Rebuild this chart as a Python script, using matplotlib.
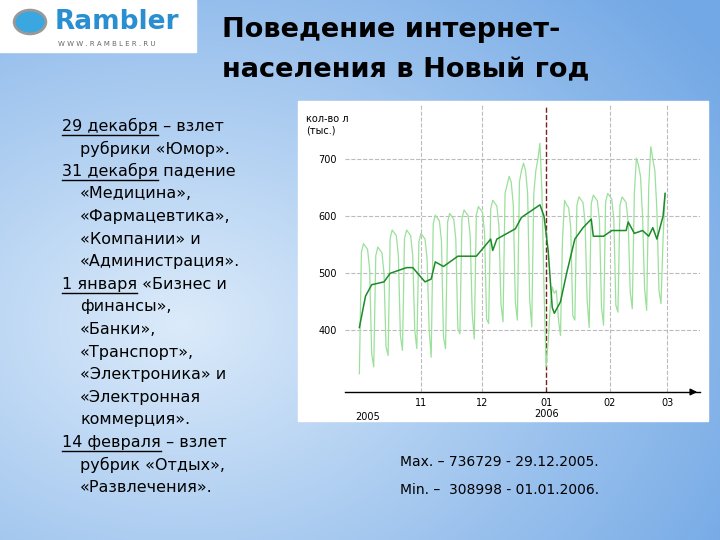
import numpy as np
import matplotlib
matplotlib.use("Agg")
import matplotlib.pyplot as plt
from matplotlib.patches import Rectangle, Circle

plt.rcParams['font.family'] = ['DejaVu Sans']

# daily visitors (thousands), weeks starting on Sunday, from 2005-10-02
daily = [324, 537, 552, 547, 542, 507, 359,
         336, 531, 546, 541, 536, 501, 371,
         356, 561, 576, 571, 566, 531, 391,
         365, 561, 576, 571, 566, 531, 400,
         368, 555, 570, 565, 560, 525, 403,
         353, 587, 602, 597, 592, 557, 388,
         368, 590, 605, 600, 595, 560, 403,
         394, 596, 611, 606, 601, 566, 429,
         385, 602, 617, 612, 607, 572, 420,
         412, 613, 628, 623, 618, 583, 447,
         415, 640, 655, 670, 660, 620, 450,
         418, 660, 680, 693, 680, 640, 453,
         406, 640, 680, 700, 728, 640, 470,
         336, 380, 440, 476, 465, 470, 420,
         391, 560, 628, 620, 615, 580, 426,
         418, 619, 634, 629, 624, 589, 453,
         405, 622, 637, 632, 627, 592, 440,
         409, 625, 640, 635, 630, 595, 444,
         432, 619, 634, 629, 624, 589, 467,
         438, 640, 702, 690, 670, 600, 473,
         435, 650, 722, 700, 680, 610, 470,
         447, 560, 640]
daily_dates = np.arange(np.datetime64('2005-10-02'), np.datetime64('2005-10-02') + len(daily))

# smoothed trend
trend_dates = ['2005-10-02', '2005-10-05', '2005-10-08', '2005-10-14', '2005-10-17', '2005-10-25',
               '2005-10-28', '2005-11-03', '2005-11-06', '2005-11-08', '2005-11-12', '2005-11-19',
               '2005-11-28', '2005-12-05', '2005-12-06', '2005-12-08', '2005-12-17', '2005-12-20',
               '2005-12-29', '2005-12-31', '2006-01-02', '2006-01-04', '2006-01-05', '2006-01-08',
               '2006-01-11', '2006-01-15', '2006-01-19', '2006-01-23', '2006-01-24', '2006-01-29',
               '2006-02-02', '2006-02-09', '2006-02-10', '2006-02-13', '2006-02-17', '2006-02-20',
               '2006-02-22', '2006-02-24', '2006-02-27', '2006-02-28']
trend = [405, 460, 480, 485, 500, 510, 510, 485, 490, 520, 512, 530, 530, 560, 540, 560, 578, 598,
         620, 600, 540, 440, 430, 450, 500, 560, 580, 595, 565, 565, 575, 575, 590, 570, 575, 565,
         580, 560, 600, 640]
trend_dates = np.array(trend_dates, dtype='datetime64[D]')

month_ticks = np.array(['2005-11-01', '2005-12-01', '2006-01-01', '2006-02-01', '2006-03-01'], dtype='datetime64[D]')
month_labels = ['11', '12', '01\n2006', '02', '03']
y_ticks = [400, 500, 600, 700]

# (underlined date, rest of line, indented continuation?)
left_text = [("29 декабря", " – взлет", False), ("", "рубрики «Юмор».", True),
             ("31 декабря", " падение", False), ("", "«Медицина»,", True), ("", "«Фармацевтика»,", True),
             ("", "«Компании» и", True), ("", "«Администрация».", True),
             ("1 января", " «Бизнес и", False), ("", "финансы»,", True), ("", "«Банки»,", True),
             ("", "«Транспорт»,", True), ("", "«Электроника» и", True), ("", "«Электронная", True),
             ("", "коммерция».", True), ("14 февраля", " – взлет", False), ("", "рубрик «Отдых»,", True),
             ("", "«Развлечения».", True)]

fig = plt.figure(figsize=(7.2, 5.4), dpi=100)

# background gradient
bg = fig.add_axes([0, 0, 1, 1])
xx, yy = np.meshgrid(np.linspace(0, 1, 300), np.linspace(0, 1, 300))
d = np.sqrt(((xx - 0.25) / 0.9) ** 2 + ((yy - 0.6) / 0.9) ** 2)
light = np.array([0.86, 0.92, 0.98])
dark = np.array([0.45, 0.66, 0.90])
t = np.clip(d, 0, 1)[..., None]
bg.imshow(light * (1 - t) + dark * t, extent=[0, 1, 0, 1], origin='upper', aspect='auto')
bg.set_xlim(0, 1)
bg.set_ylim(0, 1)
bg.axis('off')

# logo
bg.add_patch(Rectangle((0, 1 - 52 / 540), 196 / 720, 52 / 540, color='white'))
bg.add_patch(Circle((30 / 720, 1 - 22 / 540), 0.022, color='#3aa7e0', ec='#999999', lw=2))
bg.text(55 / 720, 1 - 22 / 540, "Rambler", fontsize=19, fontweight='bold', color='#2a8fd0', va='center')
bg.text(58 / 720, 1 - 44 / 540, "W W W . R A M B L E R . R U", fontsize=5, color='#666666', va='center')

# title
fig.text(222 / 720, 1 - 30 / 540, "Поведение интернет-", fontsize=19.5, fontweight='bold', va='center')
fig.text(222 / 720, 1 - 70 / 540, "населения в Новый год", fontsize=19.5, fontweight='bold', va='center')

# left text
fig.canvas.draw()
for i, (date, rest, indent) in enumerate(left_text):
    y = 1 - (126 + i * 22.6) / 540
    x0 = 80 / 720 if indent else 62 / 720
    if date:
        td = fig.text(x0, y, date, fontsize=11.5, va='center')
        bb = td.get_window_extent(renderer=fig.canvas.get_renderer())
        fig.add_artist(plt.Line2D([bb.x0 / 720, bb.x1 / 720], [(bb.y0 - 1) / 540] * 2, color='black', lw=1))
        fig.text(bb.x1 / 720, y, rest, fontsize=11.5, va='center')
    else:
        fig.text(x0, y, rest, fontsize=11.5, va='center')

# chart box
bg.add_patch(Rectangle((298 / 720, 1 - 421 / 540), 410 / 720, 320 / 540, color='white'))

ax = fig.add_axes([345 / 720, 1 - 392 / 540, 355 / 720, 287 / 540])
ax.set_facecolor('white')
for h in y_ticks:
    ax.axhline(h, color='#bbbbbb', ls='--', lw=0.8)
for m in month_ticks:
    if m == np.datetime64('2006-01-01'):
        ax.axvline(m, color='#7a2020', ls='--', lw=1)
    else:
        ax.axvline(m, color='#bbbbbb', ls='--', lw=0.8)
ax.plot(daily_dates, daily, color='#9be09b', lw=0.9)
ax.plot(trend_dates, trend, color='#1f8a2a', lw=1.1)
ax.set_ylim(292, 795)
ax.set_xlim(np.datetime64('2005-09-25'), np.datetime64('2006-03-17'))
for s in ['top', 'right', 'left']:
    ax.spines[s].set_visible(False)
ax.spines['bottom'].set_linewidth(1)
ax.annotate('', xy=(1.0, 0), xytext=(0.97, 0), xycoords='axes fraction',
            arrowprops=dict(arrowstyle='-|>', color='black', lw=1))
ax.set_xticks(month_ticks)
ax.set_xticklabels(month_labels, fontsize=7, va='top')
ax.tick_params(axis='x', length=0, pad=4)
ax.set_yticks(y_ticks)
ax.set_yticklabels([str(v) for v in y_ticks], fontsize=7)
ax.tick_params(axis='y', length=0, pad=6)
ax.text(0.03, -0.07, "2005", transform=ax.transAxes, fontsize=7, va='top')
ax.text(-0.11, 0.97, "кол-во л\n(тыс.)", transform=ax.transAxes, fontsize=7, va='top')

fig.text(400 / 720, 1 - 462 / 540, "Max. – 736729 - 29.12.2005.", fontsize=10, va='center')
fig.text(400 / 720, 1 - 490 / 540, "Min. –  308998 - 01.01.2006.", fontsize=10, va='center')

fig.savefig("out.png", dpi=100)
